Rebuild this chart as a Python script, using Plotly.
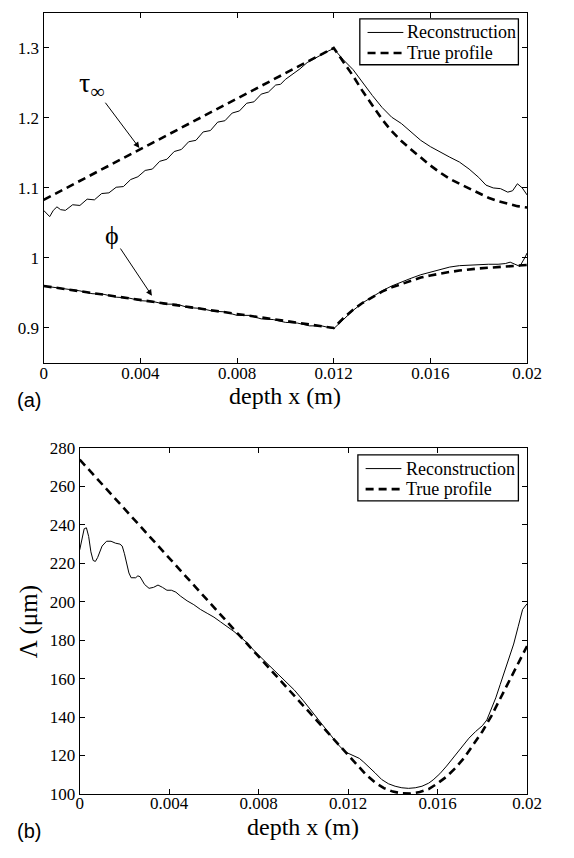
import plotly.graph_objects as go

# ---------------- Panel (a) data ----------------
tau_rec_x = [0.0, 0.0001, 0.00025, 0.0004, 0.00055, 0.0007, 0.0009, 0.0012, 0.0015, 0.0018,
             0.0021, 0.0024, 0.0027, 0.0030, 0.0033, 0.0036, 0.0039, 0.0042, 0.0045, 0.0048,
             0.0051, 0.0054, 0.0057, 0.0060, 0.0063, 0.0066, 0.0069, 0.0072, 0.0075, 0.0078,
             0.0081, 0.0084, 0.0087, 0.0090, 0.0093, 0.0096, 0.0098, 0.0100, 0.0103, 0.0106,
             0.0109, 0.0112, 0.0115, 0.0118, 0.0120, 0.0124, 0.0128, 0.0132, 0.0136, 0.0140,
             0.0144, 0.0148, 0.0152, 0.0156, 0.0160, 0.0164, 0.0168, 0.0172, 0.0176, 0.0180,
             0.0183, 0.0186, 0.0189, 0.0192, 0.0194, 0.0196, 0.0198, 0.0200]
tau_rec_y = [1.068, 1.064, 1.059, 1.068, 1.073, 1.069, 1.068, 1.076, 1.075, 1.084,
             1.083, 1.092, 1.093, 1.101, 1.102, 1.112, 1.116, 1.125, 1.127, 1.138,
             1.141, 1.152, 1.155, 1.166, 1.168, 1.180, 1.182, 1.194, 1.196, 1.207,
             1.210, 1.221, 1.223, 1.234, 1.237, 1.247, 1.248, 1.255, 1.262, 1.270,
             1.279, 1.285, 1.290, 1.296, 1.299, 1.283, 1.269, 1.250, 1.232, 1.215,
             1.201, 1.192, 1.180, 1.168, 1.159, 1.151, 1.144, 1.137, 1.127, 1.115,
             1.104, 1.100, 1.099, 1.094, 1.096, 1.106, 1.100, 1.090]

tau_true_x = [0.0, 0.0120, 0.0124, 0.0128, 0.0132, 0.0136, 0.0140, 0.0144, 0.0148, 0.0152,
              0.0156, 0.0160, 0.0164, 0.0168, 0.0172, 0.0176, 0.0180, 0.0184, 0.0188, 0.0192,
              0.0196, 0.0200]
tau_true_y = [1.083, 1.300, 1.280, 1.260, 1.238, 1.218, 1.198, 1.181, 1.167, 1.155,
              1.143, 1.132, 1.122, 1.113, 1.106, 1.099, 1.092, 1.086, 1.081, 1.077,
              1.074, 1.072]

phi_rec_x = [0.0, 0.0005, 0.0010, 0.0015, 0.0020, 0.0025, 0.0030, 0.0035, 0.0040, 0.0045,
             0.0050, 0.0055, 0.0060, 0.0065, 0.0070, 0.0075, 0.0080, 0.0085, 0.0090, 0.0095,
             0.0100, 0.0105, 0.0110, 0.0115, 0.0120, 0.0124, 0.0128, 0.0132, 0.0136, 0.0140,
             0.0144, 0.0148, 0.0152, 0.0156, 0.0160, 0.0164, 0.0168, 0.0172, 0.0176, 0.0180,
             0.0184, 0.0188, 0.0191, 0.0193, 0.0195, 0.0197, 0.0199, 0.0200]
phi_rec_y = [0.960, 0.958, 0.955, 0.953, 0.949, 0.948, 0.944, 0.943, 0.939, 0.938,
             0.934, 0.934, 0.929, 0.928, 0.924, 0.923, 0.918, 0.918, 0.913, 0.912,
             0.908, 0.907, 0.903, 0.903, 0.899, 0.912, 0.925, 0.936, 0.945, 0.953,
             0.960, 0.966, 0.971, 0.976, 0.980, 0.984, 0.987, 0.989, 0.990, 0.991,
             0.991, 0.991, 0.992, 0.994, 0.991, 0.988, 1.000, 1.007]

phi_true_x = [0.0, 0.0120, 0.0124, 0.0128, 0.0132, 0.0136, 0.0140, 0.0144, 0.0148, 0.0152,
              0.0156, 0.0160, 0.0164, 0.0168, 0.0172, 0.0176, 0.0180, 0.0184, 0.0188, 0.0192,
              0.0196, 0.0200]
phi_true_y = [0.960, 0.900, 0.914, 0.926, 0.936, 0.944, 0.952, 0.958, 0.963, 0.968,
              0.972, 0.975, 0.978, 0.980, 0.982, 0.984, 0.985, 0.986, 0.987, 0.988,
              0.989, 0.990]

# ---------------- Panel (b) data ----------------
lam_rec_x = [0.0, 0.0001, 0.0002, 0.0003, 0.0004, 0.0005, 0.0006, 0.0007, 0.0008, 0.0010,
             0.0012, 0.0014, 0.0016, 0.0018, 0.0019, 0.0020, 0.0021, 0.0022, 0.0023, 0.0025,
             0.0026, 0.0027, 0.0029, 0.0031, 0.0033, 0.0035, 0.0037, 0.0039, 0.0041, 0.0043,
             0.0045, 0.0048, 0.0051, 0.0054, 0.0057, 0.0060, 0.0063, 0.0066, 0.0069, 0.0072,
             0.0075, 0.0078, 0.0081, 0.0084, 0.0087, 0.0090, 0.0093, 0.0096, 0.0100, 0.0104,
             0.0108, 0.0112, 0.0116, 0.0119, 0.0121, 0.0123, 0.0125, 0.0127, 0.0129, 0.0132,
             0.0135, 0.0138, 0.0141, 0.0144, 0.0147, 0.0150, 0.0153, 0.0156, 0.0158, 0.0161,
             0.0164, 0.0167, 0.0170, 0.0174, 0.0177, 0.0180, 0.0182, 0.0184, 0.0186, 0.0188,
             0.0191, 0.0194, 0.0196, 0.0198, 0.0200]
lam_rec_y = [227.0, 233.0, 238.0, 238.5, 234.0, 226.0, 221.5, 221.0, 223.0, 229.0,
             231.5, 231.5, 230.5, 230.0, 229.0, 225.0, 219.0, 215.0, 212.5, 212.5,
             213.5, 213.0, 209.0, 207.0, 207.5, 208.7, 207.5, 206.0, 206.0, 205.0,
             203.0, 200.5, 198.5, 196.0, 194.0, 192.0, 189.5, 187.0, 184.5, 181.5,
             178.5, 174.5, 171.0, 167.5, 164.0, 160.5, 157.0, 154.0, 148.5, 142.5,
             136.5, 130.5, 125.0, 121.7, 120.6, 119.8, 118.5, 116.5, 114.5, 111.0,
             107.5, 105.3, 104.0, 103.2, 102.9, 103.2, 104.0, 105.6, 107.3, 110.5,
             114.5, 119.0, 123.5, 129.0, 132.5, 135.5, 138.5, 144.0, 150.0, 157.0,
             167.0, 178.0, 187.0, 196.0, 199.0]

lam_true_x = [0.0, 0.0120, 0.0124, 0.0128, 0.0132, 0.0136, 0.0140, 0.0144, 0.0148, 0.0152,
              0.0156, 0.0160, 0.0164, 0.0168, 0.0172, 0.0176, 0.0180, 0.0184, 0.0188, 0.0192,
              0.0196, 0.0200]
lam_true_y = [274.0, 120.0, 115.0, 110.0, 106.0, 103.0, 101.2, 100.3, 100.2, 101.0,
              102.5, 105.5, 109.0, 113.5, 119.0, 125.5, 132.5, 140.5, 149.5, 159.0,
              168.0, 177.0]

x_ticks = [0, 0.004, 0.008, 0.012, 0.016, 0.02]
x_tick_labels = ["0", "0.004", "0.008", "0.012", "0.016", "0.02"]
ya_ticks = [0.9, 1.0, 1.1, 1.2, 1.3]
ya_tick_labels = ["0.9", "1", "1.1", "1.2", "1.3"]
yb_ticks = [100, 120, 140, 160, 180, 200, 220, 240, 260, 280]
yb_tick_labels = [str(v) for v in yb_ticks]
legend_names = ["Reconstruction", "True profile"]

W, H = 574, 858
SERIF = "Liberation Serif, Times New Roman, serif"
SANS = "Liberation Sans, Arial, sans-serif"


def px(xr):
    return min(max(xr / W, 0.0), 1.0)


def py(yr):
    return min(max(1 - yr / H, 0.0), 1.0)


solid = dict(color="black", width=1)
DASH = "8px,5px"
dashed = dict(color="black", width=2.6, dash=DASH)

fig = go.Figure()
fig.add_trace(go.Scatter(x=tau_rec_x, y=tau_rec_y, mode="lines", line=solid,
                         name=legend_names[0], showlegend=False, xaxis="x", yaxis="y"))
fig.add_trace(go.Scatter(x=tau_true_x, y=tau_true_y, mode="lines", line=dashed,
                         name=legend_names[1], showlegend=False, xaxis="x", yaxis="y"))
fig.add_trace(go.Scatter(x=phi_rec_x, y=phi_rec_y, mode="lines", line=solid,
                         showlegend=False, xaxis="x", yaxis="y"))
fig.add_trace(go.Scatter(x=phi_true_x, y=phi_true_y, mode="lines", line=dashed,
                         showlegend=False, xaxis="x", yaxis="y"))
fig.add_trace(go.Scatter(x=lam_rec_x, y=lam_rec_y, mode="lines", line=solid,
                         name=legend_names[0], showlegend=False, xaxis="x2", yaxis="y2"))
fig.add_trace(go.Scatter(x=lam_true_x, y=lam_true_y, mode="lines", line=dashed,
                         name=legend_names[1], showlegend=False, xaxis="x2", yaxis="y2"))

axis_common = dict(showline=True, linecolor="black", linewidth=1.3, mirror="ticks",
                   ticks="inside", ticklen=5, tickwidth=1, tickcolor="black",
                   showgrid=False, zeroline=False,
                   tickfont=dict(family=SERIF, size=17, color="black"))

fig.update_layout(
    width=W, height=H,
    margin=dict(l=0, r=0, t=0, b=0),
    paper_bgcolor="white", plot_bgcolor="white",
    showlegend=False,
    xaxis=dict(domain=[px(41), px(541)], range=[0, 0.02], anchor="y", ticklabelstandoff=-6,
               tickvals=x_ticks, ticktext=x_tick_labels, **axis_common),
    yaxis=dict(domain=[py(362), py(4)], range=[0.85, 1.35], anchor="x",
               tickvals=ya_ticks, ticktext=ya_tick_labels, **axis_common),
    xaxis2=dict(domain=[px(78.3), px(541)], range=[0, 0.02], anchor="y2", ticklabelstandoff=-6,
                tickvals=x_ticks, ticktext=x_tick_labels, **axis_common),
    yaxis2=dict(domain=[py(802.7), py(449)], range=[100, 280], anchor="x2",
                tickvals=yb_ticks, ticktext=yb_tick_labels, **axis_common),
)

ann = []
shapes = []


def text(t, xp, yp, size, family=SERIF, xanchor="center", yanchor="middle", angle=0):
    ann.append(dict(text=t, x=px(xp), y=py(yp), xref="paper", yref="paper",
                    xanchor=xanchor, yanchor=yanchor, showarrow=False, textangle=angle,
                    font=dict(family=family, size=size, color="black")))


# axis titles
text("depth x (m)", 291, 396, 24)
text("depth x (m)", 309.7, 837, 24)
text("Λ (μm)", 26, 627, 25, angle=-90)
# panel labels
text("(a)", 26, 400, 20, family=SANS)
text("(b)", 26, 841, 20, family=SANS)


# manual legends (box, line samples, labels)
def legend(x0, x1, y0, y1, row1, row2, lx0, lx1, tx):
    shapes.append(dict(type="rect", xref="paper", yref="paper",
                       x0=px(x0), x1=px(x1), y0=py(y1), y1=py(y0),
                       line=dict(color="black", width=1.3), fillcolor="white", layer="above"))
    shapes.append(dict(type="line", xref="paper", yref="paper",
                       x0=px(lx0), x1=px(lx1), y0=py(row1), y1=py(row1),
                       line=dict(color="black", width=1), layer="above"))
    shapes.append(dict(type="line", xref="paper", yref="paper",
                       x0=px(lx0), x1=px(lx1), y0=py(row2), y1=py(row2),
                       line=dict(color="black", width=2.6, dash=DASH), layer="above"))
    text(legend_names[0], tx, row1, 18, xanchor="left")
    text(legend_names[1], tx, row2, 18, xanchor="left")


legend(368, 532, 10, 57, 24, 45, 376, 413, 415)
legend(366, 532, 456, 503, 470, 491, 374, 411, 414)

# curve labels with arrows
ann.append(dict(text="τ<sub>∞</sub>", x=0.00396, y=1.157, xref="x", yref="y",
                showarrow=True, ax=-48, ay=-64, arrowhead=2, arrowsize=1.2, arrowwidth=1,
                arrowcolor="black", standoff=0,
                font=dict(family=SERIF, size=28, color="black")))
ann.append(dict(text="ϕ", x=0.00448, y=0.946, xref="x", yref="y",
                showarrow=True, ax=-40, ay=-60, arrowhead=2, arrowsize=1.2, arrowwidth=1,
                arrowcolor="black", standoff=0,
                font=dict(family=SERIF, size=26, color="black")))

fig.update_layout(annotations=ann, shapes=shapes)

fig.write_html(
    "out.html",
    config={"displayModeBar": False},
    post_script="document.body.style.margin='0px';document.body.style.overflow='hidden';",
)
